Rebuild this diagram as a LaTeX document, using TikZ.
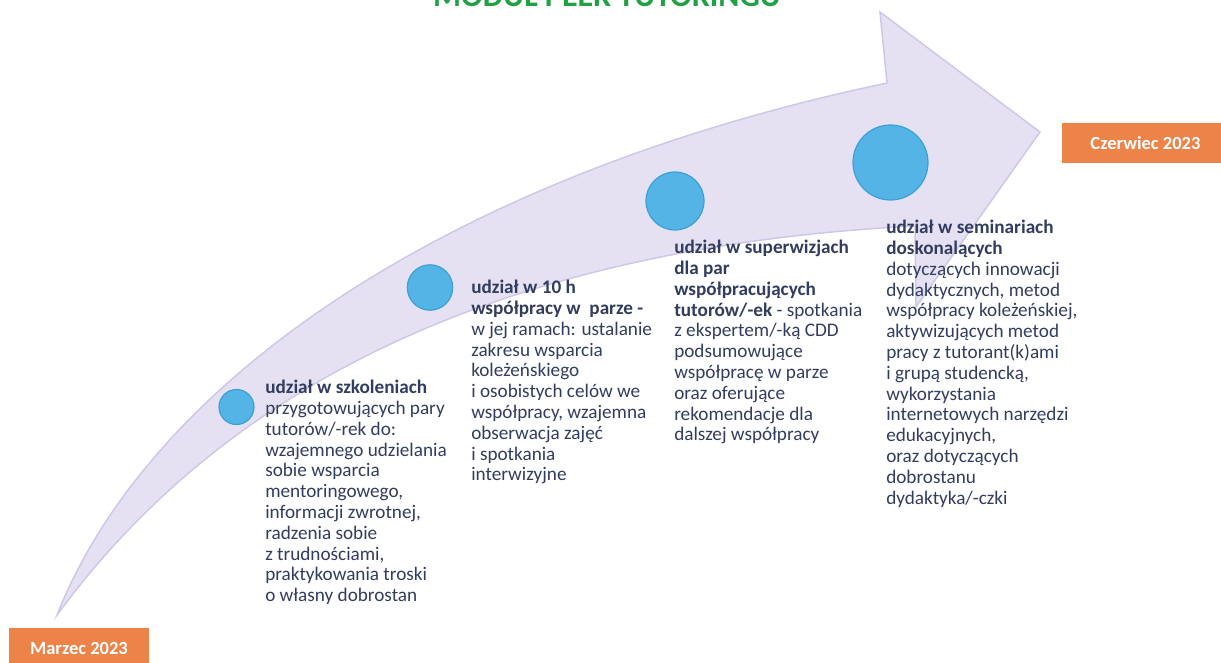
\documentclass[tikz,border=0pt]{standalone}
\usepackage{fontspec}
\setmainfont{Carlito}
\begin{document}
\begin{tikzpicture}[x=0.75pt,y=0.75pt,yscale=-1,xscale=1,
  stagetext/.style={anchor=north west, inner sep=0pt, align=left, color={rgb, 255:red, 50; green, 60; blue, 95 }, font=\fontsize{14.4}{15.6}\selectfont},
  datebox/.style={fill={rgb, 255:red, 236; green, 131; blue, 72 }, text=white, inner sep=0pt, font=\fontsize{13.9}{16}\selectfont\bfseries},
  dot/.style={color={rgb, 255:red, 60; green, 160; blue, 215 }, fill={rgb, 255:red, 84; green, 180; blue, 230 }, line width=0.9}]
\useasboundingbox (0,0) rectangle (1221,663);

%Shape: Curved Arrow [id:dp1]
\draw [color={rgb, 255:red, 206; green, 199; blue, 231 }, fill={rgb, 255:red, 229; green, 225; blue, 242 }, line width=1.1] (57,615) .. controls (150,380) and (450,175) .. (887,83) -- (880,12) -- (1040,132) -- (916,307) -- (915,226) .. controls (450,250) and (200,420) .. (57,615) -- cycle ;

%Shape: Circle [id:dp2]
\draw [dot] (236.5,407) circle (17.5) ;
%Shape: Circle [id:dp3]
\draw [dot] (430,287.5) circle (22.7) ;
%Shape: Circle [id:dp4]
\draw [dot] (675,201) circle (29) ;
%Shape: Circle [id:dp5]
\draw [dot] (890.5,162.5) circle (37.5) ;

% Text Node
\draw (607,7) node [anchor=base, color={rgb, 255:red, 34; green, 160; blue, 70 }, font=\fontsize{24}{28}\selectfont\bfseries] (title) {MODUŁ PEER TUTORINGU};
% Text Node
\draw (79,648.5) node [datebox, minimum width=105pt, minimum height=30.75pt] (marzec) {Marzec 2023};
% Text Node
\draw (1145.5,143) node [datebox, minimum width=125pt, minimum height=30pt] (czerwiec) {Czerwiec 2023};

% Text Node
\draw (265,380) node [stagetext] (szkolenia) {\textbf{udział w szkoleniach}\\przygotowujących pary\\tutorów/-rek do:\\wzajemnego udzielania\\sobie wsparcia\\mentoringowego,\\informacji zwrotnej,\\radzenia sobie\\z trudnościami,\\praktykowania troski\\o własny dobrostan};
% Text Node
\draw (471,280) node [stagetext] (wspolpraca) {\textbf{udział w 10 h}\\\textbf{współpracy w\ \ parze -}\\w jej ramach: ustalanie\\zakresu wsparcia\\koleżeńskiego\\i osobistych celów we\\współpracy, wzajemna\\obserwacja zajęć\\i spotkania\\interwizyjne};
% Text Node
\draw (674,240) node [stagetext] (superwizje) {\textbf{udział w superwizjach}\\\textbf{dla par}\\\textbf{współpracujących}\\\textbf{tutorów/-ek} - spotkania\\z ekspertem/-ką CDD\\podsumowujące\\współpracę w parze\\oraz oferujące\\rekomendacje dla\\dalszej współpracy};
% Text Node
\draw (886,220) node [stagetext] (seminaria) {\textbf{udział w seminariach}\\\textbf{doskonalących}\\dotyczących innowacji\\dydaktycznych, metod\\współpracy koleżeńskiej,\\aktywizujących metod\\pracy z tutorant(k)ami\\i grupą studencką,\\wykorzystania\\internetowych narzędzi\\edukacyjnych,\\oraz dotyczących\\dobrostanu\\dydaktyka/-czki};

\end{tikzpicture}
\end{document}
